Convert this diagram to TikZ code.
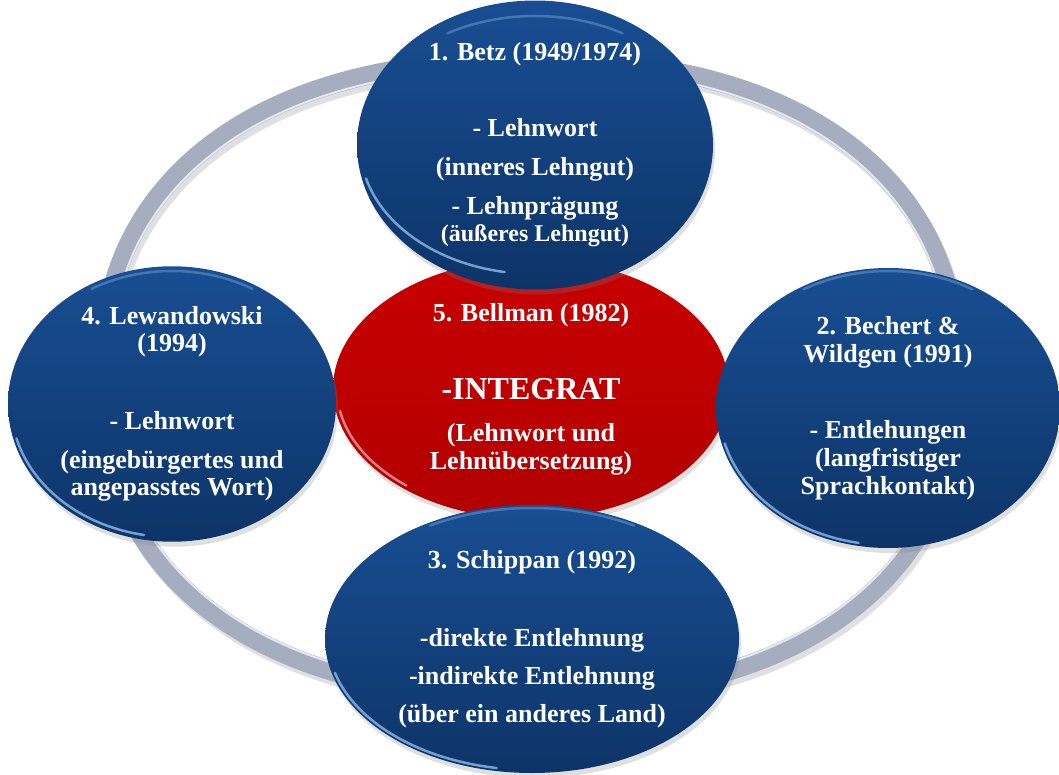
\documentclass[tikz,border=0pt]{standalone}
\usepackage{fontspec}
\setmainfont{Liberation Serif}
\usetikzlibrary{shapes.geometric,shadows}

\definecolor{ringgray}{RGB}{166,173,190}
\definecolor{ringlight}{RGB}{228,232,242}
\definecolor{bluetop}{RGB}{24,78,146}
\definecolor{bluebot}{RGB}{13,52,104}
\definecolor{rimblue}{RGB}{150,195,245}
\definecolor{redtop}{RGB}{200,0,0}
\definecolor{redbot}{RGB}{178,0,0}

\begin{document}
\begin{tikzpicture}[x=1pt,y=1pt,
  blob/.style={ellipse,inner sep=0pt,text=white,align=center,
    top color=bluetop,bottom color=bluebot,
    drop shadow={opacity=.25,shadow xshift=2pt,shadow yshift=-5pt}},
  redblob/.style={blob,top color=redtop,bottom color=redbot},
  rim/.style={line width=2.5pt,line cap=round,rimblue,opacity=.75}]
  \useasboundingbox (0,0) rectangle (1059,774);

  % silver ring behind everything (slightly squarish oval)
  \draw[black,opacity=.12,line width=19pt] plot[domain=1.25:361.25,samples=145,smooth]
    ({533+428*sign(cos(\x))*abs(cos(\x))^0.87},{391+318*sign(sin(\x))*abs(sin(\x))^0.87}) -- cycle;
  \draw[ringgray,line width=19pt] plot[domain=1.25:361.25,samples=145,smooth]
    ({530+428*sign(cos(\x))*abs(cos(\x))^0.87},{396+318*sign(sin(\x))*abs(sin(\x))^0.87}) -- cycle;
  \draw[ringlight,line width=2pt] plot[domain=1.25:361.25,samples=145,smooth]
    ({530+420*sign(cos(\x))*abs(cos(\x))^0.87},{396+310*sign(sin(\x))*abs(sin(\x))^0.87}) -- cycle;

  \node[redblob,minimum width=396,minimum height=260,
    font=\fontsize{26}{28}\selectfont\bfseries] at (531,385) (bell)
    {5. Bellman (1982)\\[50pt]{\fontsize{32}{28}\selectfont -INTEGRAT}\\[14pt](Lehnwort und\\Lehnübersetzung)};
  \draw[line width=2.5pt,line cap=round,white,opacity=.5,shift={(bell.center)}]
    (190:194 and 126) arc[start angle=190,end angle=230,x radius=194,y radius=126];

  \node[blob,minimum width=356,minimum height=264,
    font=\fontsize{26}{39}\selectfont\bfseries] at (535,629) (betz)
    {1. Betz (1949/1974)\\[37pt]- Lehnwort\\(inneres Lehngut)\\- Lehnprägung\\[-12pt]{\fontsize{24}{28}\selectfont(äußeres Lehngut)}};

  \node[blob,minimum width=328,minimum height=272,
    font=\fontsize{26}{27}\selectfont\bfseries] at (172,370) (lewa)
    {4. Lewandowski\\(1994)\\[51pt]- Lehnwort\\[12pt](eingebürgertes und\\angepasstes Wort)};

  \node[blob,minimum width=344,minimum height=280,
    font=\fontsize{26}{28}\selectfont\bfseries] at (888,366) (bech)
    {2. Bechert \&\\Wildgen (1991)\\[48pt]- Entlehungen\\(langfristiger\\Sprachkontakt)};

  \node[blob,minimum width=414,minimum height=268,
    font=\fontsize{26}{38}\selectfont\bfseries] at (532,135) (schi)
    {3. Schippan (1992)\\[40pt]-direkte Entlehnung\\-indirekte Entlehnung\\(über ein anderes Land)};

  % light rims on the blue ellipses
  \foreach \n/\a/\b in {betz/175/129,lewa/161/133,bech/169/137,schi/204/131}{
    \draw[rim,shift={(\n.center)}] (195:{\a} and {\b}) arc[start angle=195,end angle=260,x radius=\a,y radius=\b];
    \draw[rim,opacity=.35,shift={(\n.center)}] (60:{\a} and {\b}) arc[start angle=60,end angle=120,x radius=\a,y radius=\b];
  }
\end{tikzpicture}
\end{document}
